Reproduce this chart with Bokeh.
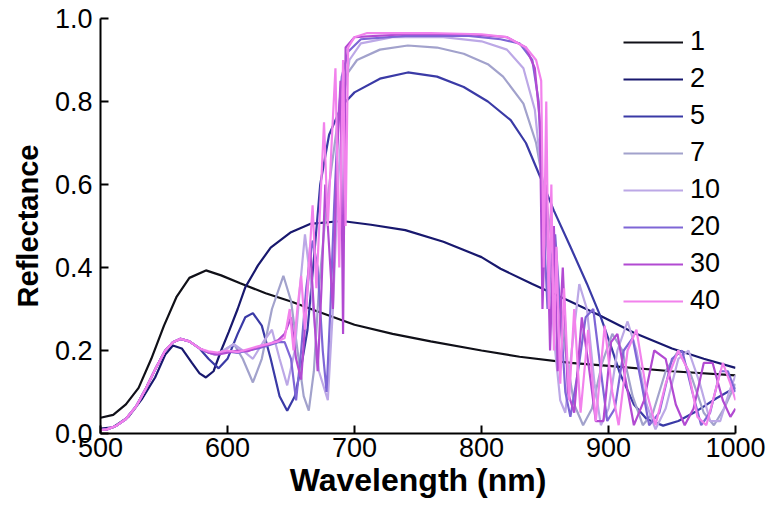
from bokeh.plotting import figure
from bokeh.models import Range1d, Legend, LegendItem, FixedTicker
from bokeh.embed import file_html
from bokeh.resources import INLINE

# ---------------- data ----------------
labels = ["1", "2", "5", "7", "10", "20", "30", "40"]
colors = ["#101018", "#18186e", "#3a3aa6", "#a2a2cc", "#bca8e6", "#7e66d6", "#b24ad2", "#f282ec"]

x_ticks = [500, 600, 700, 800, 900, 1000]
y_ticks = [0.0, 0.2, 0.4, 0.6, 0.8, 1.0]

# series 1
wl_1 = [500, 510, 520, 530, 540, 550, 560, 570, 583, 595, 610, 630, 650, 670, 700, 730, 760,
        800, 830, 870, 900, 950, 1000]
r_1 = [0.038, 0.045, 0.07, 0.11, 0.18, 0.26, 0.33, 0.375, 0.393, 0.381, 0.362, 0.338, 0.318,
       0.295, 0.262, 0.24, 0.222, 0.2, 0.185, 0.17, 0.163, 0.15, 0.14]

# series 2
wl_2 = [500, 510, 522, 533, 543, 551, 557, 564, 572, 578, 583, 589, 595, 601, 608, 614, 624,
        634, 650, 665, 690, 713, 740, 770, 800, 815, 840, 870, 894, 920, 950, 975, 1000]
r_2 = [0.012, 0.015, 0.04, 0.085, 0.135, 0.19, 0.212, 0.205, 0.17, 0.145, 0.135, 0.15, 0.2,
       0.245, 0.3, 0.352, 0.405, 0.448, 0.485, 0.505, 0.512, 0.503, 0.49, 0.462, 0.425, 0.397,
       0.36, 0.318, 0.283, 0.243, 0.205, 0.18, 0.158]

# common start of series 5 ... 40
wl_base = [500, 505, 512, 520, 528, 536, 544, 551, 557, 563, 570, 578]
r_base = [0.008, 0.01, 0.018, 0.035, 0.065, 0.11, 0.16, 0.2, 0.22, 0.228, 0.222, 0.205]

# series 5
wl_5 = [585, 593, 600, 608, 614, 620, 627, 634, 641, 647, 653, 658, 663, 668, 673, 680, 690,
        700, 720, 742, 765, 786, 805, 823, 835, 846, 857, 870, 883, 894, 902, 909, 920, 930,
        943, 955, 970, 985, 1000]
r_5 = [0.18, 0.157, 0.18, 0.24, 0.28, 0.29, 0.26, 0.18, 0.09, 0.055, 0.09, 0.16, 0.25, 0.42,
       0.6, 0.72, 0.79, 0.822, 0.855, 0.87, 0.86, 0.835, 0.8, 0.755, 0.7, 0.62, 0.537, 0.45,
       0.361, 0.28, 0.21, 0.145, 0.07, 0.035, 0.019, 0.03, 0.055, 0.085, 0.111]

# series 7
wl_7 = [585, 590, 597, 605, 612, 620, 627, 635, 644, 650, 656, 660, 664, 668, 672, 677, 681,
        688, 695, 702, 720, 742, 765, 786, 805, 817, 833, 843, 851, 859, 866, 873, 880, 887,
        895, 903, 911, 919, 927, 935, 945, 955, 965, 975, 983, 991, 1000]
r_7 = [0.195, 0.19, 0.2, 0.216, 0.18, 0.123, 0.18, 0.3, 0.38, 0.32, 0.18, 0.09, 0.055, 0.15,
       0.35, 0.52, 0.62, 0.78, 0.87, 0.9, 0.925, 0.935, 0.93, 0.915, 0.89, 0.86, 0.795, 0.7,
       0.56, 0.38, 0.2, 0.07, 0.02, 0.06, 0.17, 0.24, 0.2, 0.09, 0.02, 0.05, 0.15, 0.2, 0.14,
       0.05, 0.02, 0.06, 0.12]

# series 10
wl_10 = [585, 590, 597, 605, 612, 620, 628, 635, 641, 647, 653, 657, 661, 666, 672, 679, 683,
         687, 691, 696, 705, 730, 770, 800, 820, 833, 842, 848, 853, 858, 862, 866, 871, 877,
         883, 889, 894, 900, 907, 915, 922, 930, 937, 945, 955, 963, 972, 980, 988, 995, 1000]
r_10 = [0.195, 0.19, 0.2, 0.215, 0.2, 0.18, 0.22, 0.25, 0.18, 0.116, 0.2, 0.35, 0.48, 0.35,
        0.15, 0.08, 0.3, 0.6, 0.8, 0.9, 0.94, 0.955, 0.955, 0.945, 0.925, 0.88, 0.78, 0.6, 0.4,
        0.2, 0.08, 0.05, 0.2, 0.36, 0.3, 0.12, 0.02, 0.06, 0.2, 0.27, 0.2, 0.07, 0.01, 0.06,
        0.18, 0.2, 0.12, 0.03, 0.03, 0.1, 0.14]

# series 20
wl_20 = [585, 592, 600, 608, 616, 624, 632, 640, 645, 650, 654, 658, 662, 667, 671, 675, 678,
         681, 684, 687, 690, 695, 705, 740, 790, 815, 830, 840, 845, 849, 852, 855, 858, 862,
         866, 870, 876, 882, 888, 894, 899, 905, 912, 919, 926, 932, 940, 950, 958, 966, 973,
         980, 988, 994, 1000]
r_20 = [0.195, 0.192, 0.198, 0.194, 0.2, 0.205, 0.212, 0.22, 0.22, 0.18, 0.08, 0.2, 0.35,
        0.465, 0.4, 0.2, 0.1, 0.3, 0.55, 0.75, 0.86, 0.92, 0.95, 0.958, 0.958, 0.95, 0.94, 0.9,
        0.8, 0.5, 0.3, 0.42, 0.48, 0.3, 0.1, 0.04, 0.15, 0.28, 0.3, 0.15, 0.03, 0.06, 0.2,
        0.23, 0.12, 0.02, 0.05, 0.18, 0.2, 0.1, 0.02, 0.05, 0.15, 0.15, 0.1]

# series 30
wl_30 = [585, 592, 600, 608, 616, 624, 632, 640, 645, 650, 654, 658, 662, 665, 668, 671, 674,
         677, 680, 683, 686, 689, 691, 693, 700, 740, 790, 820, 835, 842, 846, 848, 851, 854,
         857, 860, 864, 868, 873, 879, 885, 890, 896, 902, 907, 914, 920, 928, 936, 945, 953,
         960, 967, 975, 982, 990, 996, 1000]
r_30 = [0.195, 0.19, 0.195, 0.2, 0.198, 0.208, 0.214, 0.225, 0.24, 0.28, 0.18, 0.13, 0.3,
        0.45, 0.3, 0.15, 0.35, 0.6, 0.45, 0.3, 0.65, 0.85, 0.24, 0.93, 0.955, 0.962, 0.962,
        0.955, 0.93, 0.88, 0.75, 0.3, 0.6, 0.2, 0.5, 0.15, 0.4, 0.1, 0.05, 0.28, 0.15, 0.03,
        0.03, 0.22, 0.24, 0.12, 0.02, 0.08, 0.2, 0.18, 0.07, 0.02, 0.06, 0.17, 0.17, 0.08,
        0.04, 0.06]

# series 40
wl_40 = [585, 592, 600, 608, 616, 624, 632, 640, 645, 649, 652, 655, 658, 661, 664, 667, 670,
         673, 676, 679, 682, 685, 688, 691, 693, 695, 700, 710, 760, 800, 820, 835, 843, 847,
         849, 851, 853, 855, 857, 859, 862, 865, 869, 873, 878, 884, 890, 897, 903, 908, 915,
         922, 930, 937, 945, 955, 963, 970, 977, 984, 990, 996, 1000]
r_40 = [0.198, 0.195, 0.2, 0.196, 0.203, 0.21, 0.216, 0.222, 0.23, 0.3, 0.2, 0.3, 0.38, 0.25,
        0.4, 0.55, 0.35, 0.55, 0.75, 0.5, 0.7, 0.88, 0.4, 0.9, 0.5, 0.93, 0.955, 0.965, 0.965,
        0.962, 0.955, 0.93, 0.9, 0.85, 0.4, 0.8, 0.3, 0.6, 0.2, 0.45, 0.12, 0.35, 0.08, 0.3,
        0.05, 0.25, 0.03, 0.26, 0.1, 0.02, 0.2, 0.25, 0.1, 0.02, 0.12, 0.2, 0.15, 0.04, 0.02,
        0.1, 0.17, 0.12, 0.08]

series = [
    (wl_1, r_1),
    (wl_2, r_2),
    (wl_base + wl_5, r_base + r_5),
    (wl_base + wl_7, r_base + r_7),
    (wl_base + wl_10, r_base + r_10),
    (wl_base + wl_20, r_base + r_20),
    (wl_base + wl_30, r_base + r_30),
    (wl_base + wl_40, r_base + r_40),
]

# ---------------- figure ----------------
FONT = "Liberation Sans"
p = figure(width=771, height=510, output_backend="svg", toolbar_location=None,
           x_range=Range1d(500, 1000), y_range=Range1d(0, 1.0),
           min_border_left=100, min_border_right=36, min_border_top=18, min_border_bottom=77)
p.outline_line_color = None
p.grid.visible = False
p.background_fill_color = "white"

items = []
for (wl, r), lab, col in zip(series, labels, colors):
    g = p.line(wl, r, line_color=col, line_width=2.2)
    items.append(LegendItem(label=lab, renderers=[g]))

for ax in (p.xaxis[0], p.yaxis[0]):
    ax.axis_line_width = 2
    ax.axis_line_color = "black"
    ax.major_tick_in = 8
    ax.major_tick_out = 0
    ax.major_tick_line_width = 2
    ax.minor_tick_in = 0
    ax.minor_tick_out = 0
    ax.major_label_text_font = FONT
    ax.major_label_text_font_size = "27px"
    ax.major_label_text_color = "black"
    ax.axis_label_text_font = FONT
    ax.axis_label_text_font_style = "bold"
    ax.axis_label_text_color = "black"

p.xaxis[0].axis_label_text_font_size = "32px"
p.yaxis[0].axis_label_text_font_size = "29px"
p.xaxis[0].ticker = FixedTicker(ticks=x_ticks)
p.yaxis[0].ticker = FixedTicker(ticks=y_ticks)
p.yaxis[0].major_label_overrides = {t: f"{t:.1f}" for t in y_ticks}
p.xaxis[0].axis_label = "Wavelength (nm)"
p.yaxis[0].axis_label = "Reflectance"
p.xaxis[0].major_label_standoff = 4
p.yaxis[0].major_label_standoff = 8
p.xaxis[0].axis_label_standoff = 2
p.yaxis[0].axis_label_standoff = 8

legend = Legend(items=items, location=(518, 112))
legend.background_fill_alpha = 0
legend.border_line_alpha = 0
legend.padding = 5
legend.margin = 0
legend.spacing = 6
legend.glyph_width = 60
legend.glyph_height = 28
legend.label_height = 28
legend.label_standoff = 7
legend.label_text_font = FONT
legend.label_text_font_size = "27px"
legend.label_text_color = "black"
p.add_layout(legend, "center")

open("out.html", "w").write(file_html(p, INLINE))
